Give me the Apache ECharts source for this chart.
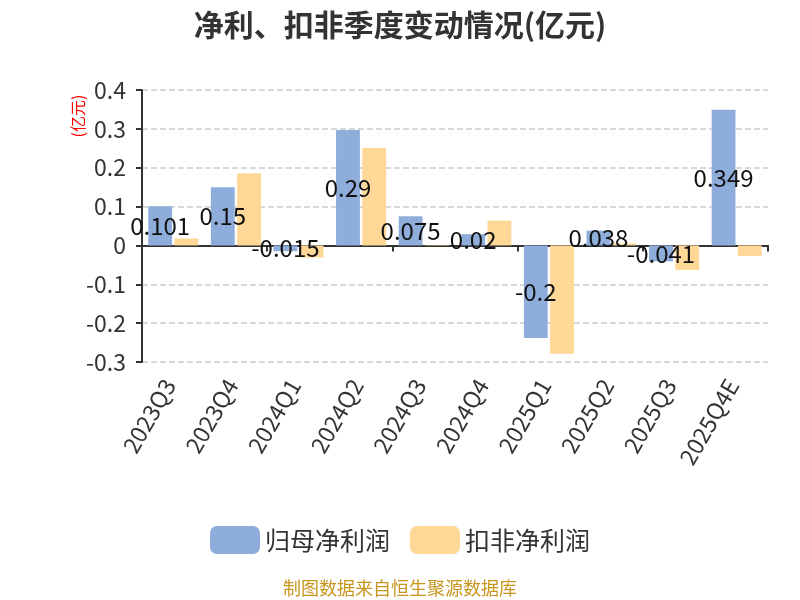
<!DOCTYPE html>
<html><head><meta charset="utf-8">
<script src="https://cdn.jsdelivr.net/npm/echarts@6/dist/echarts.min.js"></script>
<style>html,body{margin:0;padding:0;background:#fff}#c{width:800px;height:600px}</style>
</head><body><div id="c"></div>
<script>
const categories = ['2023Q3','2023Q4','2024Q1','2024Q2','2024Q3','2024Q4','2025Q1','2025Q2','2025Q3','2025Q4E'];
const netProfit = [0.101, 0.15, -0.015, 0.297, 0.075, 0.029, -0.238, 0.038, -0.041, 0.349];
const netProfitLabels = ['0.101','0.15','-0.015','0.29','0.075','0.02','-0.2','0.038','-0.041','0.349'];
const deductedProfit = [0.018, 0.186, -0.031, 0.251, 0.001, 0.064, -0.279, 0.005, -0.063, -0.027];
const yTicks = { min: -0.3, max: 0.4, interval: 0.1 };

const FONT = '"Noto Sans CJK SC", "Noto Sans", sans-serif';
const chart = echarts.init(document.getElementById('c'));
chart.setOption({
  animation: false,
  textStyle: { fontFamily: FONT },
  title: {
    text: '净利、扣非季度变动情况(亿元)',
    left: 'center', top: 5,
    textStyle: { fontSize: 30, fontWeight: 'bold', color: '#333', fontFamily: FONT }
  },
  graphic: [{
    type: 'text', x: 400, y: 588,
    style: { text: '制图数据来自恒生聚源数据库', fill: '#c8961e', font: '18px ' + FONT, align: 'center', verticalAlign: 'middle' }
  }, {
    type: 'text', x: 78, y: 116, rotation: Math.PI / 2,
    style: { text: '(亿元)', fill: '#ff0000', font: '16px ' + FONT, align: 'center', verticalAlign: 'middle' }
  }],
  legend: {
    top: 521, left: 'center',
    itemWidth: 50, itemHeight: 28, itemGap: 20,
    textStyle: { fontSize: 25, color: '#333' },
    data: ['归母净利润', '扣非净利润']
  },
  grid: { left: 142, right: 32, top: 90, bottom: 238 },
  xAxis: [{
    type: 'category', data: categories,
    axisLine: { onZero: true, lineStyle: { color: '#333', width: 2 } },
    axisTick: { show: true, length: 6, lineStyle: { color: '#333', width: 2 } },
    axisLabel: { show: false }
  }, {
    type: 'category', data: categories, position: 'bottom',
    axisLine: { show: false, onZero: false },
    axisTick: { show: false },
    axisLabel: { rotate: 60, fontSize: 23, color: '#333', margin: 12, padding: [0, 8, 0, 0] }
  }],
  yAxis: {
    type: 'value', min: yTicks.min, max: yTicks.max, interval: yTicks.interval,
    axisLine: { show: true, lineStyle: { color: '#333', width: 2 } },
    axisTick: { show: true, length: 6, lineStyle: { color: '#333', width: 2 } },
    axisLabel: { fontSize: 23, color: '#333', margin: 16 },
    splitLine: { lineStyle: { type: 'dashed', color: '#ccc', width: 1.5 } }
  },
  series: [{
    name: '归母净利润', type: 'bar', xAxisIndex: 0,
    data: netProfit,
    barGap: '10%', barCategoryGap: '20%',
    itemStyle: { color: '#8eaddb' },
    label: {
      show: true, position: 'inside', fontSize: 24, color: '#111',
      formatter: p => netProfitLabels[p.dataIndex]
    }
  }, {
    name: '扣非净利润', type: 'bar', xAxisIndex: 0,
    data: deductedProfit,
    itemStyle: { color: '#ffd898' }
  }]
});
</script></body></html>
